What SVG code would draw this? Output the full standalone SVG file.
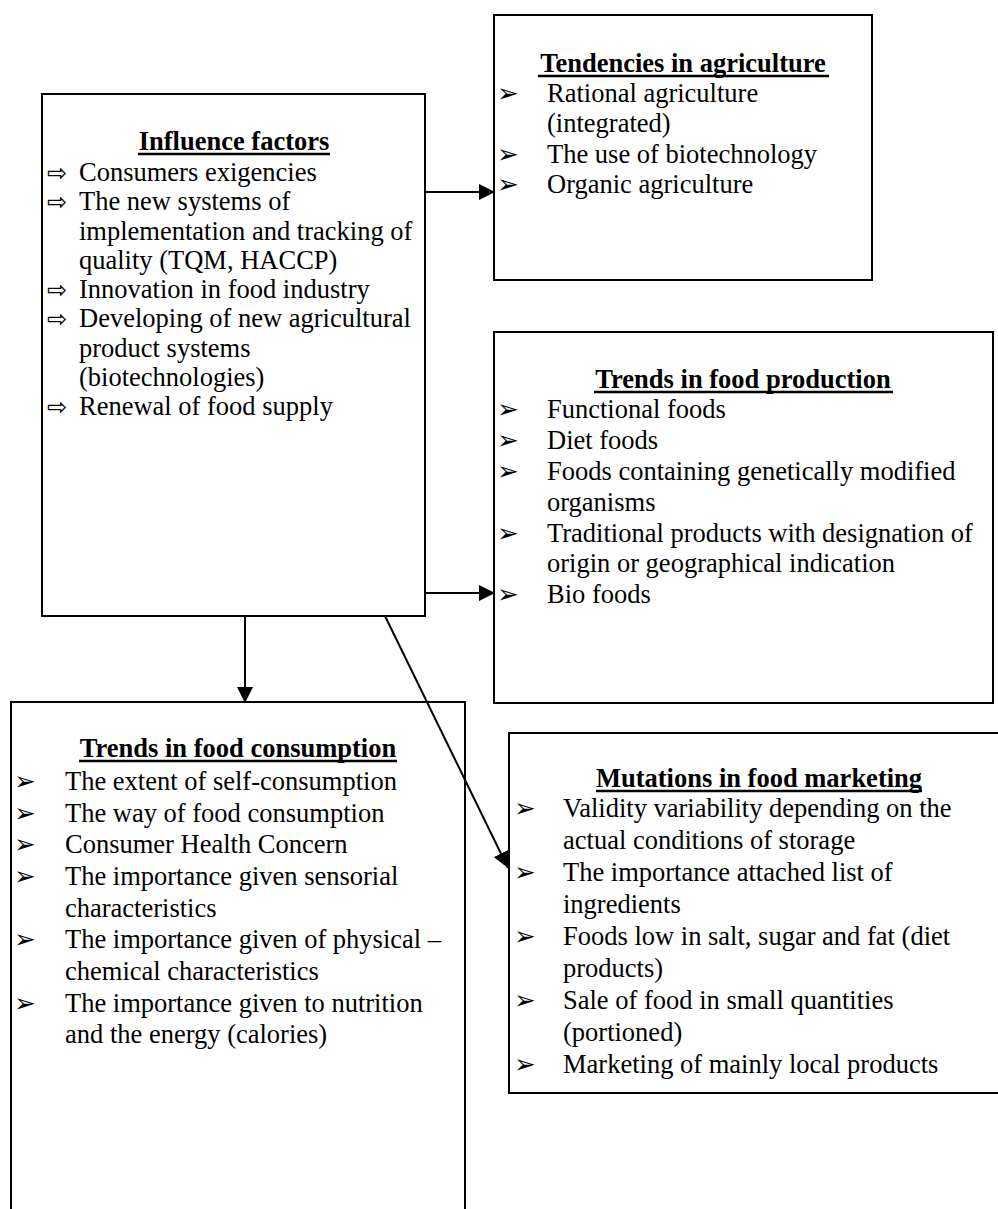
<svg xmlns="http://www.w3.org/2000/svg" width="998" height="1209" viewBox="0 0 998 1209">
  <style>
    .box{fill:#fff;stroke:#000;stroke-width:2}
    .t{font-family:"Liberation Serif","Times New Roman",serif;font-size:26.5px;fill:#000}
    .h{font-weight:bold;text-anchor:middle}
    .ul{stroke:#000;stroke-width:2.5}
    .b{font-family:"DejaVu Sans",sans-serif;font-size:26px;fill:#000}
    .a{font-family:"DejaVu Sans",sans-serif;font-size:24px;fill:#000}
    .conn{stroke:#000;stroke-width:2;fill:none}
  </style>
  <defs>
    <marker id="head" markerUnits="userSpaceOnUse" markerWidth="16" markerHeight="16" refX="16" refY="8" orient="auto">
      <path d="M0,0 L16,8 L0,16 z" fill="#000"/>
    </marker>
  </defs>

  <rect width="998" height="1209" fill="#fff"/>

  <!-- Influence factors -->
  <g id="influence">
    <rect class="box" x="42" y="94" width="383" height="522"/>
    <text class="t h" x="234" y="150">Influence factors</text>
    <line class="ul" x1="138" y1="154" x2="330" y2="154"/>
    <text class="a" x="47" y="181">⇨</text><text class="t" x="79" y="181">Consumers exigencies</text>
    <text class="a" x="47" y="210">⇨</text><text class="t" x="79" y="210">The new systems of</text>
    <text class="t" x="79" y="240">implementation and tracking of</text>
    <text class="t" x="79" y="269">quality (TQM, HACCP)</text>
    <text class="a" x="47" y="298">⇨</text><text class="t" x="79" y="298">Innovation in food industry</text>
    <text class="a" x="47" y="327">⇨</text><text class="t" x="79" y="327">Developing of new agricultural</text>
    <text class="t" x="79" y="357">product systems</text>
    <text class="t" x="79" y="386">(biotechnologies)</text>
    <text class="a" x="47" y="415">⇨</text><text class="t" x="79" y="415">Renewal of food supply</text>
  </g>

  <!-- Tendencies in agriculture -->
  <g id="agriculture">
    <rect class="box" x="494" y="15" width="378" height="265"/>
    <text class="t h" x="683" y="72">Tendencies in agriculture</text>
    <line class="ul" x1="538" y1="76" x2="829" y2="76"/>
    <text class="b" x="497" y="102">➢</text><text class="t" x="547" y="102">Rational agriculture</text>
    <text class="t" x="547" y="132">(integrated)</text>
    <text class="b" x="497" y="163">➢</text><text class="t" x="547" y="163">The use of biotechnology</text>
    <text class="b" x="497" y="193">➢</text><text class="t" x="547" y="193">Organic agriculture</text>
  </g>

  <!-- Trends in food production -->
  <g id="production">
    <rect class="box" x="494" y="332" width="499" height="371"/>
    <text class="t h" x="743" y="388">Trends in food production</text>
    <line class="ul" x1="594" y1="392" x2="893" y2="392"/>
    <text class="b" x="497" y="418">➢</text><text class="t" x="547" y="418">Functional foods</text>
    <text class="b" x="497" y="449">➢</text><text class="t" x="547" y="449">Diet foods</text>
    <text class="b" x="497" y="480">➢</text><text class="t" x="547" y="480">Foods containing genetically modified</text>
    <text class="t" x="547" y="511">organisms</text>
    <text class="b" x="497" y="542">➢</text><text class="t" x="547" y="542">Traditional products with designation of</text>
    <text class="t" x="547" y="572">origin or geographical indication</text>
    <text class="b" x="497" y="603">➢</text><text class="t" x="547" y="603">Bio foods</text>
  </g>

  <!-- Trends in food consumption -->
  <g id="consumption">
    <rect class="box" x="11" y="702" width="454" height="530"/>
    <text class="t h" x="238" y="757">Trends in food consumption</text>
    <line class="ul" x1="79" y1="761" x2="397" y2="761"/>
    <text class="b" x="14" y="790">➢</text><text class="t" x="65" y="790">The extent of self-consumption</text>
    <text class="b" x="14" y="822">➢</text><text class="t" x="65" y="822">The way of food consumption</text>
    <text class="b" x="14" y="853">➢</text><text class="t" x="65" y="853">Consumer Health Concern</text>
    <text class="b" x="14" y="885">➢</text><text class="t" x="65" y="885">The importance given sensorial</text>
    <text class="t" x="65" y="917">characteristics</text>
    <text class="b" x="14" y="948">➢</text><text class="t" x="65" y="948">The importance given of physical –</text>
    <text class="t" x="65" y="980">chemical characteristics</text>
    <text class="b" x="14" y="1012">➢</text><text class="t" x="65" y="1012">The importance given to nutrition</text>
    <text class="t" x="65" y="1043">and the energy (calories)</text>
  </g>

  <!-- Mutations in food marketing -->
  <g id="marketing">
    <rect class="box" x="509" y="733" width="520" height="360"/>
    <text class="t h" x="759" y="787">Mutations in food marketing</text>
    <line class="ul" x1="596" y1="791" x2="922" y2="791"/>
    <text class="b" x="514" y="817">➢</text><text class="t" x="563" y="817">Validity variability depending on the</text>
    <text class="t" x="563" y="849">actual conditions of storage</text>
    <text class="b" x="514" y="881">➢</text><text class="t" x="563" y="881">The importance attached list of</text>
    <text class="t" x="563" y="913">ingredients</text>
    <text class="b" x="514" y="945">➢</text><text class="t" x="563" y="945">Foods low in salt, sugar and fat (diet</text>
    <text class="t" x="563" y="977">products)</text>
    <text class="b" x="514" y="1009">➢</text><text class="t" x="563" y="1009">Sale of food in small quantities</text>
    <text class="t" x="563" y="1041">(portioned)</text>
    <text class="b" x="514" y="1073">➢</text><text class="t" x="563" y="1073">Marketing of mainly local products</text>
  </g>

  <!-- Connectors -->
  <g id="connectors">
    <line class="conn" x1="425" y1="192" x2="495" y2="192" marker-end="url(#head)"/>
    <line class="conn" x1="425" y1="593" x2="495" y2="593" marker-end="url(#head)"/>
    <line class="conn" x1="245" y1="616" x2="245" y2="703" marker-end="url(#head)"/>
    <line class="conn" x1="385" y1="616" x2="508" y2="868" stroke-width="1.5" marker-end="url(#head)"/>
  </g>
</svg>
